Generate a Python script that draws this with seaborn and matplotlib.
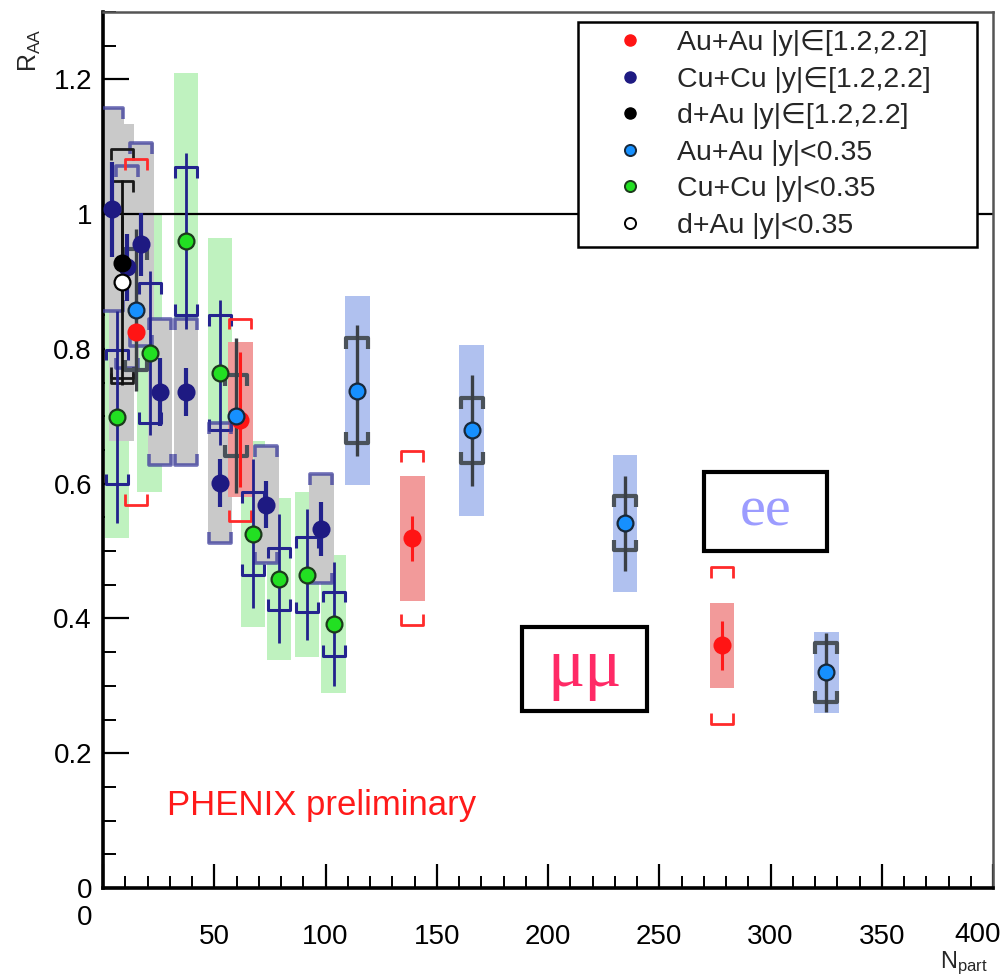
import numpy as np
import pandas as pd
import matplotlib
matplotlib.use("Agg")
import matplotlib.pyplot as plt
from matplotlib.patches import Rectangle
from matplotlib.lines import Line2D
from matplotlib.transforms import ScaledTranslation
import seaborn as sns

# ---- J/psi nuclear modification factor vs. number of participants ----
# Au+Au, forward rapidity |y| in [1.2, 2.2]
auau_fwd_npart = [278.2, 138.9, 61.6, 14.8]
auau_fwd_raa = [0.360, 0.519, 0.695, 0.825]
auau_fwd_stat = [0.036, 0.033, 0.100, 0.040]
auau_fwd_syst = [0.116, 0.129, 0.150, 0.257]
auau_fwd_box = [0.063, 0.093, 0.115, 0.0]

# Cu+Cu, forward rapidity |y| in [1.2, 2.2]
cucu_fwd_npart = [98.0, 73.3, 52.6, 37.3, 25.6, 17.1, 10.8, 4.0]
cucu_fwd_raa = [0.533, 0.569, 0.601, 0.736, 0.736, 0.955, 0.921, 1.007]
cucu_fwd_stat = [0.040, 0.035, 0.035, 0.035, 0.050, 0.047, 0.050, 0.070]
cucu_fwd_syst = [0.081, 0.087, 0.089, 0.108, 0.108, 0.150, 0.150, 0.150]
cucu_fwd_box = [0.081, 0.087, 0.089, 0.108, 0.108, 0.150, 0.150, 0.150]

# d+Au, forward rapidity |y| in [1.2, 2.2]
dau_fwd_npart = [8.5]
dau_fwd_raa = [0.927]
dau_fwd_stat = [0.070]
dau_fwd_syst = [0.170]
dau_fwd_box = [0.200]

# Au+Au, mid rapidity |y| < 0.35
auau_mid_npart = [325.0, 234.6, 165.8, 114.2, 59.8, 14.8]
auau_mid_raa = [0.320, 0.541, 0.679, 0.738, 0.701, 0.858]
auau_mid_stat = [0.059, 0.070, 0.082, 0.097, 0.115, 0.120]
auau_mid_syst = [0.044, 0.040, 0.048, 0.078, 0.060, 0.090]
auau_mid_box = [0.060, 0.101, 0.127, 0.140, 0.0, 0.0]

# Cu+Cu, mid rapidity |y| < 0.35
cucu_mid_npart = [103.8, 91.7, 79.1, 67.4, 52.6, 37.3, 21.1, 6.3]
cucu_mid_raa = [0.392, 0.465, 0.459, 0.526, 0.765, 0.960, 0.794, 0.699]
cucu_mid_stat = [0.092, 0.097, 0.096, 0.111, 0.108, 0.131, 0.121, 0.157]
cucu_mid_syst = [0.048, 0.056, 0.046, 0.061, 0.085, 0.110, 0.104, 0.100]
cucu_mid_box = [0.102, 0.122, 0.120, 0.138, 0.200, 0.250, 0.207, 0.180]

# d+Au, mid rapidity |y| < 0.35
dau_mid_npart = [8.5]
dau_mid_raa = [0.899]
dau_mid_stat = [0.152]
dau_mid_syst = [0.150]
dau_mid_box = [0.235]

legend_labels = [
    "Au+Au |y|\u2208[1.2,2.2]",
    "Cu+Cu |y|\u2208[1.2,2.2]",
    "d+Au |y|\u2208[1.2,2.2]",
    "Au+Au |y|<0.35",
    "Cu+Cu |y|<0.35",
    "d+Au |y|<0.35",
]

x_ticks = [0, 50, 100, 150, 200, 250, 300, 350, 400]
y_ticks = [0, 0.2, 0.4, 0.6, 0.8, 1.0, 1.2]
y_tick_labels = ["0", "0.2", "0.4", "0.6", "0.8", "1", "1.2"]

# ---- style ----
sns.set_style("white")
plt.rcParams["font.family"] = ["Liberation Sans", "DejaVu Sans"]
plt.rcParams["mathtext.fontset"] = "custom"
plt.rcParams["mathtext.rm"] = "Liberation Sans"

fig = plt.figure(figsize=(10.07, 9.76), dpi=100)
ax = fig.add_axes([103 / 1007, 1 - 888 / 976, 890 / 1007, 876 / 976])

BOX_HW = 5.6     # half width of systematic boxes (Npart units)
BRK_HW = 5.0     # half width of brackets
BRK_TICK = 0.016  # bracket end length (R_AA units)


def draw_boxes(x, y, half, color, z):
    for xi, yi, hi in zip(x, y, half):
        if hi > 0:
            ax.add_patch(Rectangle((xi - BOX_HW, yi - hi), 2 * BOX_HW, 2 * hi,
                                   facecolor=color, edgecolor="none", zorder=z))


def draw_brackets(x, y, half, color, lw, z, alpha=1.0):
    for xi, yi, hi in zip(x, y, half):
        if hi <= 0:
            continue
        top, bot = yi + hi, yi - hi
        xs = [xi - BRK_HW, xi - BRK_HW, xi + BRK_HW, xi + BRK_HW]
        ax.plot(xs, [top - BRK_TICK, top, top, top - BRK_TICK], color=color,
                lw=lw, zorder=z, alpha=alpha, solid_capstyle="butt")
        ax.plot(xs, [bot + BRK_TICK, bot, bot, bot + BRK_TICK], color=color,
                lw=lw, zorder=z, alpha=alpha, solid_capstyle="butt")


def draw_stat(x, y, err, color, lw, z):
    ax.errorbar(x, y, yerr=err, fmt="none", ecolor=color, elinewidth=lw,
                capsize=0, zorder=z)


# boxes
draw_boxes(cucu_mid_npart, cucu_mid_raa, cucu_mid_box, "#bff2bf", 1.0)
draw_boxes(dau_mid_npart, dau_mid_raa, dau_mid_box, "#c9c9c9", 1.05)
draw_boxes(dau_fwd_npart, dau_fwd_raa, dau_fwd_box, "#c9c9c9", 1.05)
draw_boxes(cucu_fwd_npart, cucu_fwd_raa, cucu_fwd_box, "#c9c9c9", 1.1)
draw_boxes(auau_mid_npart, auau_mid_raa, auau_mid_box, "#b0c1ef", 1.2)
draw_boxes(auau_fwd_npart, auau_fwd_raa, auau_fwd_box, "#f29a9a", 1.3)

# unity reference line
ax.axhline(1.0, color="black", lw=1.6, zorder=2)

# brackets
draw_brackets(cucu_mid_npart, cucu_mid_raa, cucu_mid_syst, "#24248f", 2.2, 3)
draw_brackets(cucu_fwd_npart, cucu_fwd_raa, cucu_fwd_syst, "#3c3c9c", 2.6, 3, 0.75)
draw_brackets(dau_fwd_npart, dau_fwd_raa, dau_fwd_syst, "#1a1a1a", 2.0, 3)
draw_brackets(dau_mid_npart, dau_mid_raa, dau_mid_syst, "#1a1a1a", 2.0, 3)
draw_brackets(auau_mid_npart, auau_mid_raa, auau_mid_syst, "#4a525a", 3.0, 3)
draw_brackets(auau_fwd_npart, auau_fwd_raa, auau_fwd_syst, "#ff2a2a", 2.0, 3)

# statistical errors
draw_stat(auau_fwd_npart, auau_fwd_raa, auau_fwd_stat, "#ff1a1a", 2.2, 4)
draw_stat(cucu_fwd_npart, cucu_fwd_raa, cucu_fwd_stat, "#22228c", 3.0, 4)
draw_stat(cucu_mid_npart, cucu_mid_raa, cucu_mid_stat, "#22228c", 2.0, 4)
draw_stat(dau_mid_npart, dau_mid_raa, dau_mid_stat, "#111111", 2.0, 4)
draw_stat(dau_fwd_npart, dau_fwd_raa, dau_fwd_stat, "#111111", 2.0, 4)
draw_stat(auau_mid_npart, auau_mid_raa, auau_mid_stat, "#3a3f45", 2.4, 4)

# markers
series = [
    (auau_fwd_npart, auau_fwd_raa, "#ff1414", "#ff1414"),
    (cucu_fwd_npart, cucu_fwd_raa, "#1e1a82", "#1e1a82"),
    (cucu_mid_npart, cucu_mid_raa, "#22e022", "#1c3a1c"),
    (auau_mid_npart, auau_mid_raa, "#1690ff", "#17283a"),
    (dau_mid_npart, dau_mid_raa, "white", "black"),
    (dau_fwd_npart, dau_fwd_raa, "black", "black"),
]
for i, (xs, ys, fc, ec) in enumerate(series):
    df = pd.DataFrame({"npart": xs, "raa": ys})
    sns.scatterplot(data=df, x="npart", y="raa", ax=ax, s=130, color=fc,
                    edgecolor=ec, linewidth=1.6, zorder=5 + 0.1 * i, legend=False)

# ---- axes ----
ax.set_xlim(0, 400)
ax.set_ylim(0, 1.3)
ax.set_xlabel("")
ax.set_ylabel("")
ax.set_xticks(x_ticks)
ax.set_xticklabels([str(v) for v in x_ticks])
ax.set_yticks(y_ticks)
ax.set_yticklabels(y_tick_labels)
ax.set_xticks(np.arange(0, 401, 10), minor=True)
ax.set_yticks(np.arange(0, 1.301, 0.05), minor=True)
ax.tick_params(axis="both", which="both", direction="in", top=False, right=False,
               bottom=True, left=True, colors="black", labelsize=20)
ax.tick_params(axis="y", which="major", length=19, width=1.6, pad=8)
ax.tick_params(axis="y", which="minor", length=9, width=1.4)
ax.tick_params(axis="x", which="major", length=17, width=1.6, pad=26)
ax.tick_params(axis="x", which="minor", length=9, width=1.4)
for side in ["left", "bottom"]:
    ax.spines[side].set_linewidth(2.6)
    ax.spines[side].set_color("black")
for side in ["top", "right"]:
    ax.spines[side].set_linewidth(1.8)
    ax.spines[side].set_color("#555555")
    ax.spines[side].set_visible(True)
ax.set_facecolor("white")
ax.grid(False)

# the x-axis origin label sits below-left of the corner; the last one is
# nudged inward so it stays on the canvas
fig.canvas.draw()
xlabels = ax.get_xticklabels()
xlabels[0].set_transform(xlabels[0].get_transform()
                         + ScaledTranslation(-0.18, 0.19, fig.dpi_scale_trans))
xlabels[-1].set_transform(xlabels[-1].get_transform()
                          + ScaledTranslation(-0.15, 0.02, fig.dpi_scale_trans))

# axis titles
fig.text(30 / 1007, 1 - 28 / 976, r"$\mathregular{R_{AA}}$", rotation=90,
         ha="center", va="top", fontsize=18)
fig.text(988 / 1007, 1 - 968 / 976, r"$\mathregular{N_{part}}$",
         ha="right", va="baseline", fontsize=17)

# ---- legend ----
handles = [
    Line2D([], [], ls="none", marker="o", ms=8, mfc="#ff1414", mec="#ff1414"),
    Line2D([], [], ls="none", marker="o", ms=8, mfc="#1e1a82", mec="#1e1a82"),
    Line2D([], [], ls="none", marker="o", ms=8, mfc="black", mec="black"),
    Line2D([], [], ls="none", marker="o", ms=8, mfc="#1690ff", mec="#17283a", mew=1.4),
    Line2D([], [], ls="none", marker="o", ms=8, mfc="#22e022", mec="#1c3a1c", mew=1.4),
    Line2D([], [], ls="none", marker="o", ms=8, mfc="white", mec="black", mew=1.4),
]
leg = ax.legend(handles, legend_labels, loc="upper left",
                bbox_to_anchor=(0.534, 0.9886, 0.448, 0.0), mode="expand",
                borderaxespad=0, fontsize=20.5, frameon=True, fancybox=False,
                edgecolor="black", framealpha=1.0, borderpad=0.29,
                labelspacing=0.37, handlelength=3.07, handletextpad=0.11)
leg.get_frame().set_linewidth(1.8)
leg.set_zorder(10)

# ---- annotations ----
ax.text(0.072, 0.083, "PHENIX preliminary", transform=ax.transAxes,
        color="#ff1a1a", fontsize=25, ha="left", va="baseline", zorder=6)

for (x0, y0, x1, y1), txt, col, fs in [
    ((0.675, 0.385, 0.813, 0.475), "ee", "#9c9cff", 42),
    ((0.471, 0.202, 0.611, 0.298), "\u03bc\u03bc", "#ff2a66", 50),
]:
    ax.add_patch(Rectangle((x0, y0), x1 - x0, y1 - y0, transform=ax.transAxes,
                           facecolor="white", edgecolor="black", lw=3.0, zorder=6))
    ax.text((x0 + x1) / 2, (y0 + y1) / 2, txt, transform=ax.transAxes,
            ha="center", va="center", color=col, fontsize=fs,
            family=["Liberation Serif", "DejaVu Serif"], zorder=7)

fig.savefig("out.png", dpi=100)
